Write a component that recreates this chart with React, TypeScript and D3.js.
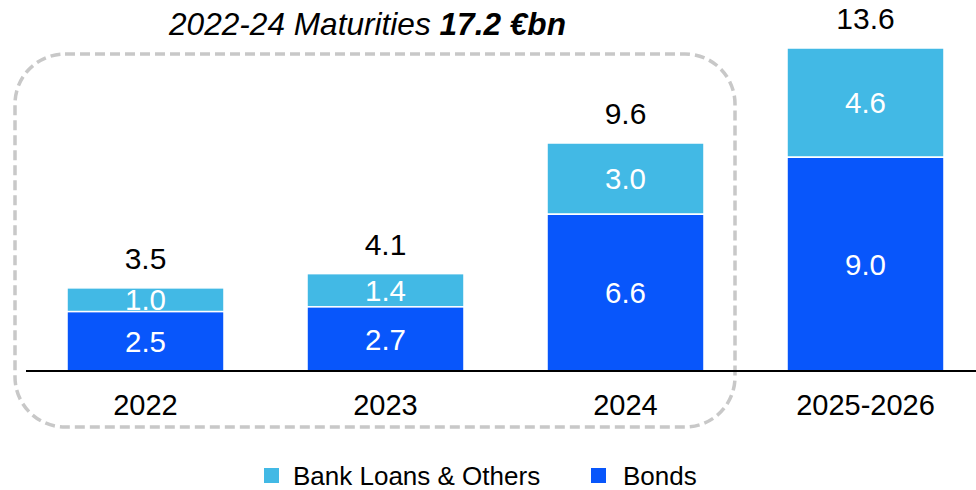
import React from "react";
import * as d3 from "d3";

const categories = ["2022", "2023", "2024", "2025-2026"];
const bonds = [2.5, 2.7, 6.6, 9.0];
const bankLoans = [1.0, 1.4, 3.0, 4.6];
const totals = [3.5, 4.1, 9.6, 13.6];
const seriesNames = ["Bank Loans & Others", "Bonds"];
const titleNormal = "2022-24 Maturities ";
const titleBold = "17.2 €bn";

const W = 976;
const H = 490;
const LIGHT = "#42B9E5";
const DARK = "#0856FB";
const FONT = "Liberation Sans, Arial, sans-serif";

export default function App() {
  const x = d3.scaleBand<string>().domain(categories).range([25.5, 985.5]).paddingInner(0.346).paddingOuter(0.173);
  const y = d3.scaleLinear().domain([0, 13.6]).range([371, 48]);
  const bw = x.bandwidth();

  return (
    <svg width={W} height={H} style={{ position: "absolute", left: 0, top: 0, background: "#fff" }} fontFamily={FONT}>
      <rect x={15} y={54} width={720} height={373} rx={50} ry={50} fill="none" stroke="#c8c8c8" strokeWidth={3.5} strokeDasharray="10 5" />
      <text x={367.5} y={35} textAnchor="middle" fontSize={31.6} fontStyle="italic" fill="#000">
        <tspan>{titleNormal}</tspan>
        <tspan fontWeight="bold">{titleBold}</tspan>
      </text>
      {categories.map((c, i) => {
        const x0 = x(c)!;
        const cx = x0 + bw / 2;
        const yb = y(bonds[i]);
        const yt = y(bonds[i] + bankLoans[i]);
        return (
          <g key={c}>
            <rect x={x0} y={yt} width={bw} height={yb - yt} fill={LIGHT} stroke="#fff" strokeWidth={1.5} />
            <text x={cx} y={(yt + yb) / 2} dy="0.36em" textAnchor="middle" fontSize={29.5} fill="#fff">
              {bankLoans[i].toFixed(1)}
            </text>
            <rect x={x0} y={yb} width={bw} height={y(0) - yb} fill={DARK} stroke="#fff" strokeWidth={1.5} />
            <text x={cx} y={(yb + y(0)) / 2} dy="0.36em" textAnchor="middle" fontSize={29.5} fill="#fff">
              {bonds[i].toFixed(1)}
            </text>
            <text x={cx} y={y(totals[i]) - 19} textAnchor="middle" fontSize={30} fill="#000">
              {totals[i].toFixed(1)}
            </text>
            <text x={cx} y={415} textAnchor="middle" fontSize={29} fill="#000">
              {c}
            </text>
          </g>
        );
      })}
      <line x1={26} x2={976} y1={y(0)} y2={y(0)} stroke="#000" strokeWidth={2} />
      <g>
        <rect x={264} y={468} width={15} height={15} fill={LIGHT} />
        <text x={293} y={485} fontSize={26} fill="#000">{seriesNames[0]}</text>
        <rect x={591} y={468} width={15} height={15} fill={DARK} />
        <text x={623} y={485} fontSize={26} fill="#000">{seriesNames[1]}</text>
      </g>
    </svg>
  );
}
